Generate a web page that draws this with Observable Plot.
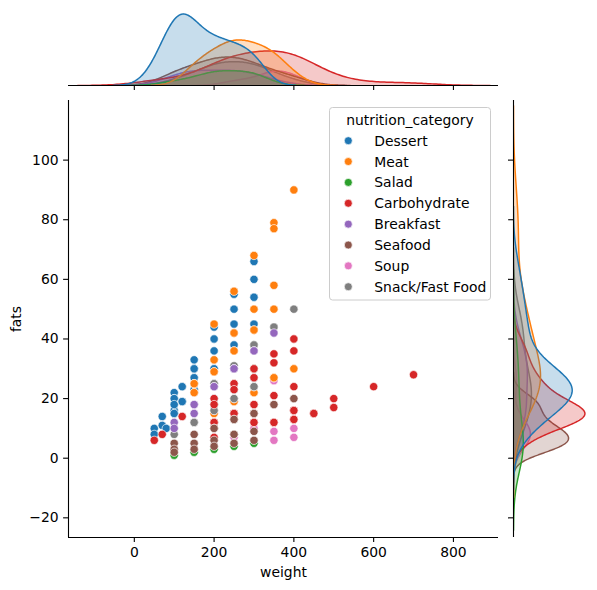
<!DOCTYPE html>
<html><head><meta charset="utf-8">
<script src="https://cdn.jsdelivr.net/npm/d3@7"></script>
<script src="https://cdn.jsdelivr.net/npm/@observablehq/plot@0.6"></script>
<style>
body{margin:0;background:#fff;font-family:"DejaVu Sans",sans-serif;}
#chart{position:relative;width:597px;height:590px;overflow:hidden;}
#chart > svg{position:absolute;}
</style></head><body><div id="chart"></div>
<script>
const categories = ["Dessert","Meat","Salad","Carbohydrate","Breakfast","Seafood","Soup","Snack/Fast Food"];
const colors = ["#1f77b4","#ff7f0e","#2ca02c","#d62728","#9467bd","#8c564b","#e377c2","#7f7f7f"];

// visible points first, then estimated coincident (hidden) points
const dessertWeight = [50,50,70,70,80,100,100,100,100,100,120,120,150,150,150,150,200,200,200,200,250,250,250,250,300,300,300,300,
  100,100,120,120,150,150,150,150,200,200,200,200,250,250,250,300,300,150,100,120];
const dessertFats   = [10,8,14,11,10,22,20,18,16,15,24,19,33,30,27,23,44,40,36,30,55,50,45,38,66,60,54,45,
  20,18,19,24,23,27,30,25,30,20,25,24,25,23,30,24,27,22,15,19];
const meatWeight = [150,150,200,200,200,200,250,250,250,250,300,300,300,300,350,350,350,350,350,400,400,
  150,150,200,200,250,250,250,300,300,300,350,250];
const meatFats   = [25,22,45,33,29,15,56,42,36,19,68,50,43,22,79,77,58,50,27,90,30,
  25,22,29,33,36,19,42,22,43,22,27,25];
const saladWeight = [100,150,200,250,300, 200,200,250,300,300];
const saladFats   = [1,2,3,4,5, 12,18,25,30,38];
const carbWeight = [50,70,120,200,200,200,200,250,250,250,300,300,300,300,350,350,350,350,400,400,400,400,400,450,500,500,600,700,
  200,250,300,350,400,300,250,400,450,400];
const carbFats   = [6,8,14,20,18,12,7,25,23,15,30,27,18,12,35,32,21,12,40,36,24,16,13,15,20,17,24,28,
  12,15,12,12,16,18,15,13,15,16];
const breakfastWeight = [100,100,150,150,200,250,300,350, 200,250,300,150,250];
const breakfastFats   = [12,10,18,15,24,30,36,42, 24,30,36,18,30];
const seafoodWeight = [100,100,100,150,150,150,200,200,200,250,250,250,300,300,300,350,400, 200,250,300,350,400,200,250];
const seafoodFats   = [5,3,2,8,5,3,10,6,4,13,8,5,15,9,6,18,20, 10,13,15,18,20,10,8];
const soupWeight = [250,300,350,350,350,400,400];
const soupFats   = [7,10,26,9,6,10,7];
const snackWeight = [100,150,200,200,250,250,300,300,350,400, 200,250,250,300,300,150,200,350];
const snackFats   = [8,12,25,16,31,20,38,24,44,50, 25,31,20,24,38,12,16,44];

const xTicks = [0,200,400,600,800];
const yTicks = [-20,0,20,40,60,80,100];
const xDomain = [-165, 913];
const yDomain = [-26.6, 120];

const groups = [
  [dessertWeight, dessertFats], [meatWeight, meatFats], [saladWeight, saladFats],
  [carbWeight, carbFats], [breakfastWeight, breakfastFats], [seafoodWeight, seafoodFats],
  [soupWeight, soupFats], [snackWeight, snackFats]
];
const N = d3.sum(groups, g => g[0].length);

const drawOrder = [6, 2, 0, 1, 7, 4, 3, 5];
const points = [];
for (const i of drawOrder) {
  const [w, f] = groups[i];
  w.forEach((v, j) => points.push({weight: v, fats: f[j], cat: categories[i]}));
}

// seaborn-like gaussian KDE (scott bandwidth, cut=3, gridsize=200, common_norm)
function kde(vals) {
  const n = vals.length;
  const sd = d3.deviation(vals);
  const bw = sd * Math.pow(n, -1/5);
  const lo = d3.min(vals) - 3*bw, hi = d3.max(vals) + 3*bw;
  const out = [];
  for (let k = 0; k < 200; k++) {
    const x = lo + (hi - lo) * k / 199;
    let s = 0;
    for (const v of vals) { const z = (x - v)/bw; s += Math.exp(-0.5*z*z); }
    out.push({v: x, d: s / (n * bw * Math.sqrt(2*Math.PI)) * n / N});
  }
  return out;
}
const kx = groups.map(g => kde(g[0]));
const ky = groups.map(g => kde(g[1]));
const maxX = d3.max(kx, a => d3.max(a, p => p.d));
const maxY = d3.max(ky, a => d3.max(a, p => p.d));

const font = {fontFamily: "DejaVu Sans", fontSize: "13.9px", background: "transparent", overflow: "visible", color: "black"};
const chart = document.getElementById("chart");

const main = Plot.plot({
  width: 505, height: 495,
  marginLeft: 68, marginRight: 7, marginTop: 5, marginBottom: 53,
  style: font,
  x: {domain: xDomain},
  y: {domain: yDomain},
  color: {domain: categories, range: colors},
  marks: [
    Plot.dot(points, {x: "weight", y: "fats", fill: "cat", r: 4.17, stroke: "white", strokeWidth: 0.67}),
    Plot.ruleX([xDomain[0]], {stroke: "black", strokeWidth: 1.1}),
    Plot.ruleY([yDomain[0]], {stroke: "black", strokeWidth: 1.1}),
    Plot.axisX({ticks: xTicks, tickSize: 4.9, tickPadding: 5, strokeWidth: 1.1, label: "weight", labelAnchor: "center", labelOffset: 39, labelArrow: "none"}),
    Plot.axisY({ticks: yTicks, tickSize: 4.9, tickPadding: 5, strokeWidth: 1.1, label: "fats", labelAnchor: "center", labelOffset: 57, labelArrow: "none"})
  ]
});
main.style.left = "0px"; main.style.top = "95px";
chart.appendChild(main);

const topMarks = [];
for (let i = categories.length - 1; i >= 0; i--) {
  topMarks.push(Plot.areaY(kx[i], {x: "v", y: "d", fill: colors[i], fillOpacity: 0.25, clip: true}));
  topMarks.push(Plot.lineY(kx[i], {x: "v", y: "d", stroke: colors[i], strokeWidth: 1.5, clip: true}));
}
topMarks.push(Plot.ruleY([0], {stroke: "black", strokeWidth: 1.1}));
topMarks.push(Plot.axisX({ticks: xTicks, tickSize: 4.9, tickFormat: () => "", strokeWidth: 1.1, label: null}));
const topM = Plot.plot({
  width: 597, height: 95,
  marginLeft: 68, marginRight: 99, marginTop: 10, marginBottom: 10,
  style: font,
  x: {domain: xDomain},
  y: {domain: [0, maxX * 1.05], axis: null},
  marks: topMarks
});
topM.style.left = "0px"; topM.style.top = "0px";
chart.appendChild(topM);

const rightMarks = [];
for (let i = categories.length - 1; i >= 0; i--) {
  rightMarks.push(Plot.areaX(ky[i], {y: "v", x: "d", fill: colors[i], fillOpacity: 0.25, clip: true}));
  rightMarks.push(Plot.lineX(ky[i], {y: "v", x: "d", stroke: colors[i], strokeWidth: 1.5, clip: true}));
}
rightMarks.push(Plot.ruleX([0], {stroke: "black", strokeWidth: 1.1}));
rightMarks.push(Plot.axisY({ticks: yTicks, tickSize: 4.9, tickFormat: () => "", strokeWidth: 1.1, label: null}));
const rightM = Plot.plot({
  width: 92, height: 495,
  marginLeft: 8, marginRight: 9, marginTop: 5, marginBottom: 53,
  style: font,
  x: {domain: [0, maxY * 1.05], axis: null},
  y: {domain: yDomain},
  marks: rightMarks
});
rightM.style.left = "505px"; rightM.style.top = "95px";
chart.appendChild(rightM);

const lg = d3.select(chart).append("svg")
  .attr("width", 164).attr("height", 196)
  .style("position", "absolute").style("left", "328px").style("top", "106px")
  .style("font-family", "DejaVu Sans").style("font-size", "13.9px");
lg.append("rect").attr("x", 1.5).attr("y", 1.5).attr("width", 161).attr("height", 192.5)
  .attr("rx", 3).attr("fill", "white").attr("fill-opacity", 0.8).attr("stroke", "#cccccc").attr("stroke-width", 1);
lg.append("text").attr("x", 82).attr("y", 18.5).attr("text-anchor", "middle").text("nutrition_category");
categories.forEach((c, i) => {
  const cy = 34.7 + i * 20.86;
  lg.append("circle").attr("cx", 20.3).attr("cy", cy).attr("r", 4).attr("fill", colors[i]).attr("stroke", "white").attr("stroke-width", 0.67);
  lg.append("text").attr("x", 46.3).attr("y", cy + 5).text(c);
});
</script></body></html>
